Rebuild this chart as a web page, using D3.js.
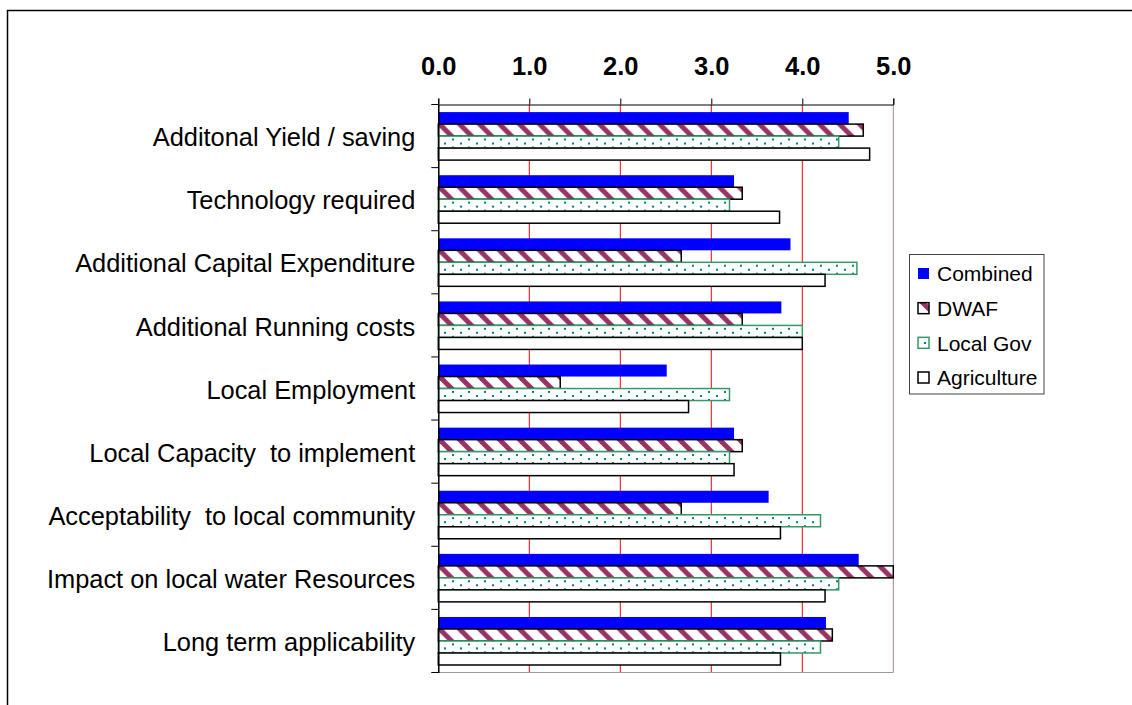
<!DOCTYPE html>
<html>
<head>
<meta charset="utf-8">
<script src="https://cdn.jsdelivr.net/npm/d3@7"></script>
<style>
  html, body { margin: 0; padding: 0; background: #fff; }
  svg { display: block; }
  text { font-family: "Liberation Sans", Arial, sans-serif; fill: #000; white-space: pre; }
</style>
</head>
<body>
<svg id="chart" width="1132" height="705"></svg>
<script>
const categories = [
  "Additonal Yield / saving",
  "Technology required",
  "Additional Capital Expenditure",
  "Additional Running costs",
  "Local Employment",
  "Local Capacity  to implement",
  "Acceptability  to local community",
  "Impact on local water Resources",
  "Long term applicability"
];
const seriesNames = ["Combined", "DWAF", "Local Gov", "Agriculture"];
const combined    = [4.51, 3.25, 3.87, 3.77, 2.51, 3.25, 3.63, 4.62, 4.26];
const dwaf        = [4.67, 3.34, 2.67, 3.34, 1.34, 3.34, 2.67, 5.00, 4.33];
const localGov    = [4.40, 3.20, 4.60, 4.00, 3.20, 3.20, 4.20, 4.40, 4.20];
const agriculture = [4.74, 3.75, 4.25, 4.00, 2.75, 3.25, 3.76, 4.25, 3.76];
const tickValues  = [0, 1, 2, 3, 4, 5];
const tickLabels  = ["0.0", "1.0", "2.0", "3.0", "4.0", "5.0"];

const seriesValues = [combined, dwaf, localGov, agriculture];
const svg = d3.select("#chart");

// patterns
const defs = svg.append("defs");
const stripe = defs.append("pattern").attr("id", "stripes")
  .attr("patternUnits", "userSpaceOnUse").attr("width", 20).attr("height", 20);
stripe.append("rect").attr("width", 20).attr("height", 20).attr("fill", "#fff");
[-20, 0, 20].forEach(dx => {
  stripe.append("line").attr("x1", dx - 2).attr("y1", -2).attr("x2", dx + 22).attr("y2", 22)
    .attr("stroke", "#993366").attr("stroke-width", 5);
});
const dots = defs.append("pattern").attr("id", "dots")
  .attr("patternUnits", "userSpaceOnUse").attr("width", 16).attr("height", 8);
dots.append("rect").attr("width", 16).attr("height", 8).attr("fill", "#fff");
dots.append("rect").attr("x", 4).attr("y", 2).attr("width", 2).attr("height", 2).attr("fill", "#008080");
dots.append("rect").attr("x", 12).attr("y", 6).attr("width", 2).attr("height", 2).attr("fill", "#008080");

const styles = [
  { fill: "#0000ff", stroke: "none", sw: 0 },
  { fill: "url(#stripes)", stroke: "#000", sw: 1.5 },
  { fill: "url(#dots)", stroke: "#339966", sw: 1.5 },
  { fill: "#fff", stroke: "#000", sw: 1.5 }
];

// outer frame
svg.append("path").attr("d", "M7.5,705 L7.5,10.5 L1132,10.5")
  .attr("fill", "none").attr("stroke", "#000").attr("stroke-width", 1.5);

const x = d3.scaleLinear().domain([0, 5]).range([438.3, 893.3]);
const y = d3.scaleBand().domain(categories).range([104.5, 672.5]).padding(0);
const ySub = d3.scaleBand().domain(seriesNames).range([7.6, 7.6 + 48]).padding(0);

// gridlines
svg.append("g").selectAll("line").data(tickValues.filter(v => v > 0)).join("line")
  .attr("x1", d => x(d)).attr("x2", d => x(d))
  .attr("y1", 104.5).attr("y2", 672.5)
  .attr("stroke", d => d === 5 ? "#a08888" : "#ff0000").attr("stroke-width", 1);

// bottom line
svg.append("line").attr("x1", x(0)).attr("x2", x(5)).attr("y1", 672.5).attr("y2", 672.5)
  .attr("stroke", "#999").attr("stroke-width", 1);

// bars
const groups = svg.append("g").selectAll("g").data(categories).join("g")
  .attr("transform", c => `translate(0,${y(c)})`);
seriesNames.forEach((s, si) => {
  groups.append("rect")
    .attr("x", x(0))
    .attr("y", ySub(s))
    .attr("width", (c, ci) => x(seriesValues[si][ci]) - x(0))
    .attr("height", ySub.bandwidth())
    .attr("fill", styles[si].fill)
    .attr("stroke", styles[si].stroke)
    .attr("stroke-width", styles[si].sw);
});

// top axis
const xAxis = d3.axisTop(x).tickValues(tickValues).tickFormat((d, i) => tickLabels[i]).tickSize(6).tickPadding(23.5);
const gx = svg.append("g").attr("transform", "translate(0,104.5)").call(xAxis);
gx.select(".domain").attr("stroke", "#000").attr("stroke-width", 1);
gx.selectAll(".tick line").attr("stroke", "#000");
gx.selectAll(".tick text").attr("font-size", 25.5).attr("font-weight", "bold")
  .attr("font-family", "Liberation Sans, Arial, sans-serif").attr("fill", "#000");

// left axis
const yAxis = d3.axisLeft(y).tickSize(0).tickPadding(23);
const gy = svg.append("g").attr("transform", `translate(${x(0)},0)`).call(yAxis);
gy.select(".domain").attr("stroke", "#000").attr("stroke-width", 1.5);
gy.selectAll(".tick text").attr("font-size", 25.4).attr("dy", "0.4em")
  .attr("font-family", "Liberation Sans, Arial, sans-serif").attr("fill", "#000")
  .style("white-space", "pre");
// boundary ticks
const bounds = categories.map(c => y(c)).concat([y.range()[1]]);
gy.append("g").selectAll("line").data(bounds).join("line")
  .attr("x1", -7).attr("x2", 0).attr("y1", d => d).attr("y2", d => d)
  .attr("stroke", "#000").attr("stroke-width", 1);

// legend
const lg = svg.append("g");
lg.append("rect").attr("x", 909.5).attr("y", 254.5).attr("width", 134.5).attr("height", 139.5)
  .attr("fill", "#fff").attr("stroke", "#444").attr("stroke-width", 1);
const lgY = d3.scalePoint().domain(seriesNames).range([274, 378]);
seriesNames.forEach((s, si) => {
  lg.append("rect").attr("x", 918).attr("y", lgY(s) - 6).attr("width", 11).attr("height", 11)
    .attr("fill", styles[si].fill)
    .attr("stroke", si === 0 ? "none" : styles[si].stroke)
    .attr("stroke-width", si === 0 ? 0 : 1.5);
  lg.append("text").attr("x", 937).attr("y", lgY(s)).attr("dy", "0.35em")
    .attr("font-size", 21).text(s);
});
</script>
</body>
</html>
